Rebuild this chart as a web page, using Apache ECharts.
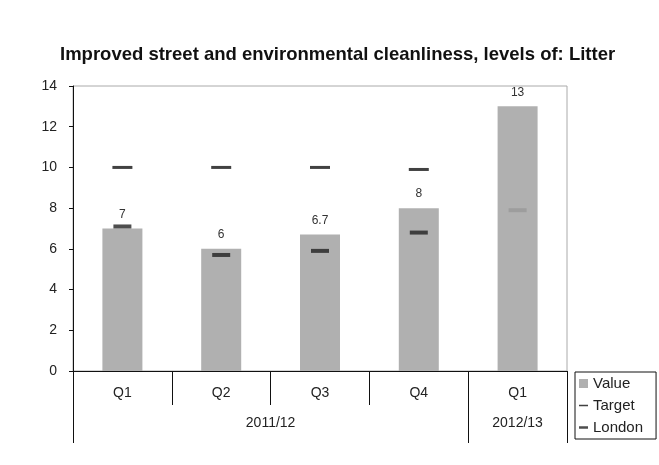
<!DOCTYPE html>
<html><head><meta charset="utf-8">
<script src="https://cdn.jsdelivr.net/npm/echarts@6/dist/echarts.min.js"></script>
<style>html,body{margin:0;padding:0;background:#fff}#c{width:659px;height:465px}</style>
</head><body><div id="c"></div>
<script>
var quarters = ['Q1','Q2','Q3','Q4','Q1'];
var years = ['2011/12','2012/13'];
var yearPos = [1.5, 4];
var yearBounds = [-0.5, 3.5, 4.5];
var valueData = [7, 6, 6.7, 8, 13];
var targetData = [10, 10, 10, 9.9, null];
var londonData = [7.1, 5.7, 5.9, 6.8, 7.9];
var yTicks = [0,2,4,6,8,10,12,14];

var FONT = 'Liberation Sans, Arial, sans-serif';
var chart = echarts.init(document.getElementById('c'));
var dashIcon = function(h){ return 'path://M0,0h0.01v0.01h-0.01z M0,'+(5-h/2)+'h10v'+h+'h-10z M9.99,9.99h0.01v0.01h-0.01z'; };
chart.setOption({
  animation:false,
  backgroundColor:'#fff',
  title:{text:'Improved street and environmental cleanliness, levels of: Litter',left:55,top:40,
    textStyle:{fontFamily:FONT,fontSize:18.5,fontWeight:'bold',color:'#111'}},
  grid:{left:73,right:92,top:86,bottom:94,show:true,borderColor:'#aaa',borderWidth:1},
  legend:{orient:'vertical',left:575,top:372,padding:[4,13,4,4],itemGap:7,itemWidth:9,itemHeight:9,
    borderColor:'#111',borderWidth:1,textStyle:{fontFamily:FONT,fontSize:15,color:'#222'},
    data:[{name:'Value',icon:'rect'},{name:'Target',icon:dashIcon(1.5)},{name:'London',icon:dashIcon(3)}]},
  xAxis:[{type:'category',data:quarters,position:'bottom',
      axisLine:{onZero:false,lineStyle:{color:'#111',width:1}},
      axisTick:{show:true,length:34,interval:0,lineStyle:{color:'#111'}},
      axisLabel:{margin:15,fontFamily:FONT,fontSize:14,color:'#222',interval:0}},
    {type:'value',min:-0.5,max:4.5,position:'bottom',splitLine:{show:false},
      axisLine:{show:false,onZero:false},
      axisTick:{show:true,length:72,customValues:yearBounds,lineStyle:{color:'#111'}},
      axisLabel:{margin:45,fontFamily:FONT,fontSize:14,color:'#222',customValues:yearPos,
        formatter:function(v){var i=yearPos.indexOf(v);return i>=0?years[i]:'';}}}],
  yAxis:{type:'value',min:0,max:14,interval:2,
    axisLine:{show:true,onZero:false,lineStyle:{color:'#111'}},
    axisTick:{show:true,length:4,lineStyle:{color:'#111'}},
    splitLine:{show:false},
    axisLabel:{margin:16,fontFamily:FONT,fontSize:14,color:'#222',
      formatter:function(v){return yTicks.indexOf(v)>=0?String(v):'';}}},
  series:[
    {name:'Value',type:'bar',data:valueData,barWidth:40,itemStyle:{color:'#b0b0b0'},
      label:{show:true,position:'top',distance:8,fontFamily:FONT,fontSize:12,color:'#333'}},
    {name:'Target',type:'scatter',data:targetData,symbol:'rect',symbolSize:[20,3],itemStyle:{color:'#111'},z:5},
    {name:'London',type:'scatter',data:londonData.map(function(v,i){return i===4?{value:v,itemStyle:{color:'#999'}}:v;}),
      symbol:'rect',symbolSize:[18,4],itemStyle:{color:'#222'},z:6}
  ]
});
</script></body></html>
